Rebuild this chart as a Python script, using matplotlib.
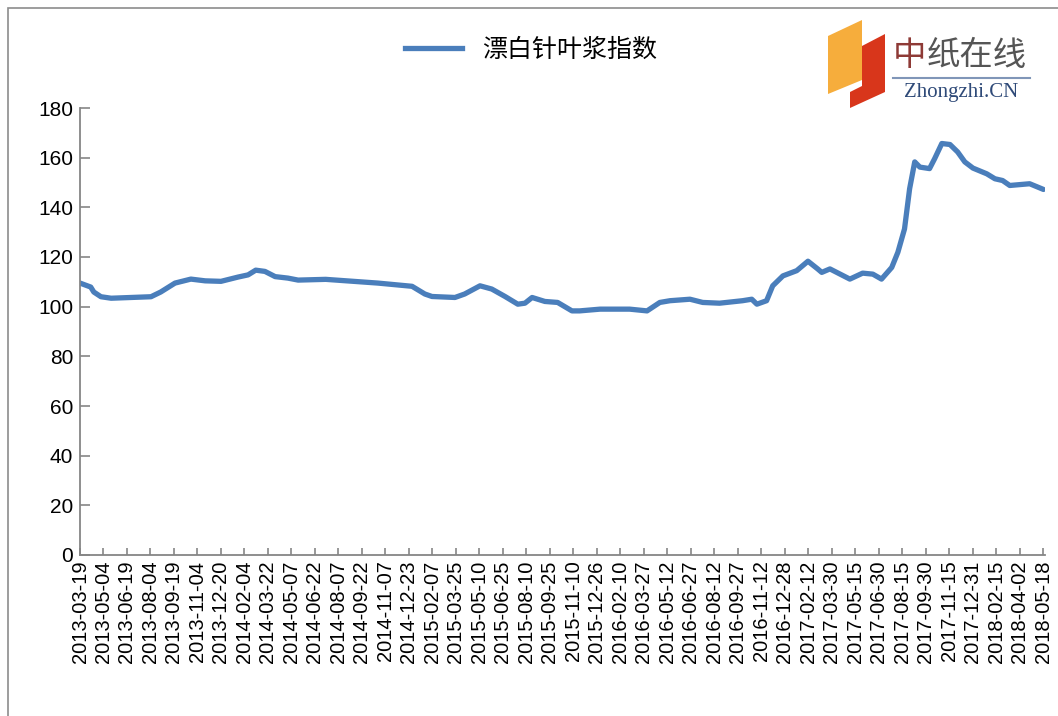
import pandas as pd
import matplotlib.pyplot as plt
from matplotlib.patches import Polygon, Rectangle
from matplotlib.lines import Line2D

# 漂白针叶浆指数
dates = [
    "2013-03-19", "2013-04-09", "2013-04-15", "2013-04-29", "2013-05-19", "2013-08-05",
    "2013-08-24", "2013-09-21", "2013-10-22", "2013-11-19", "2013-12-20", "2014-01-22",
    "2014-02-11", "2014-02-26", "2014-03-16", "2014-04-05", "2014-04-30", "2014-05-20",
    "2014-07-13", "2014-10-23", "2014-12-29", "2015-01-23", "2015-02-06", "2015-03-23",
    "2015-04-11", "2015-05-11", "2015-06-03", "2015-06-29", "2015-07-24", "2015-08-07",
    "2015-08-21", "2015-09-15", "2015-10-10", "2015-11-07", "2015-11-22", "2016-01-01",
    "2016-02-28", "2016-04-02", "2016-04-27", "2016-05-17", "2016-06-25", "2016-07-20",
    "2016-08-22", "2016-10-06", "2016-10-24", "2016-11-03", "2016-11-22", "2016-12-04",
    "2016-12-24", "2017-01-20", "2017-02-11", "2017-03-02", "2017-03-10", "2017-03-26",
    "2017-05-04", "2017-05-29", "2017-06-18", "2017-07-05", "2017-07-25", "2017-08-06",
    "2017-08-19", "2017-08-29", "2017-09-08", "2017-09-18", "2017-10-07", "2017-10-17",
    "2017-10-31", "2017-11-16", "2017-12-01", "2017-12-15", "2017-12-31", "2018-01-27",
    "2018-02-12", "2018-02-27", "2018-03-13", "2018-04-21", "2018-05-11", "2018-05-18",
]
index_values = [
    109.5, 107.9, 105.9, 104.0, 103.4, 104.0,
    105.9, 109.5, 111.1, 110.4, 110.2, 111.9,
    112.8, 114.7, 114.2, 112.1, 111.5, 110.7,
    111.0, 109.5, 108.2, 105.1, 104.1, 103.7,
    105.1, 108.4, 107.1, 104.1, 101.0, 101.4,
    103.7, 102.1, 101.7, 98.3, 98.3, 99.0,
    99.0, 98.3, 101.7, 102.4, 103.0, 101.7,
    101.4, 102.4, 103.0, 101.0, 102.4, 108.4,
    112.4, 114.5, 118.3, 115.2, 113.8, 115.2,
    111.1, 113.5, 113.1, 111.1, 115.8, 121.9,
    131.3, 147.5, 158.3, 156.2, 155.6, 159.6,
    165.7, 165.3, 162.3, 158.3, 155.8, 153.5,
    151.5, 150.8, 148.8, 149.5, 147.8, 147.2,
]

tick_labels = [
    "2013-03-19", "2013-05-04", "2013-06-19", "2013-08-04", "2013-09-19", "2013-11-04",
    "2013-12-20", "2014-02-04", "2014-03-22", "2014-05-07", "2014-06-22", "2014-08-07",
    "2014-09-22", "2014-11-07", "2014-12-23", "2015-02-07", "2015-03-25", "2015-05-10",
    "2015-06-25", "2015-08-10", "2015-09-25", "2015-11-10", "2015-12-26", "2016-02-10",
    "2016-03-27", "2016-05-12", "2016-06-27", "2016-08-12", "2016-09-27", "2016-11-12",
    "2016-12-28", "2017-02-12", "2017-03-30", "2017-05-15", "2017-06-30", "2017-08-15",
    "2017-09-30", "2017-11-15", "2017-12-31", "2018-02-15", "2018-04-02", "2018-05-18",
]

W, H = 1058, 716
fig = plt.figure(figsize=(W / 100, H / 100), dpi=100)
fig.patch.set_facecolor("white")

# outer chart border (only top and left show)
fig.add_artist(Rectangle((8 / W, -0.1), 1.2, 1 - 8 / H + 0.1, transform=fig.transFigure,
                         fill=False, edgecolor="#8c8c8c", linewidth=1.2))

ax = fig.add_axes([80 / W, 1 - 555 / H, (1045 - 80) / W, (555 - 108) / H])

x = pd.to_datetime(dates)
line_color = "#4a7ebb"
ax.plot(x, index_values, color=line_color, linewidth=3.8, solid_capstyle="round",
        solid_joinstyle="round")

ax.set_ylim(0, 180)
ax.set_yticks(range(0, 181, 20))
ax.set_xlim(pd.Timestamp("2013-03-19"), pd.Timestamp("2018-05-21"))
ax.set_xticks(pd.to_datetime(tick_labels))
ax.set_xticklabels(tick_labels, rotation=90)

for s in ["top", "right"]:
    ax.spines[s].set_visible(False)
for s in ["left", "bottom"]:
    ax.spines[s].set_color("#868686")
    ax.spines[s].set_linewidth(1.3)

ax.tick_params(axis="y", direction="in", length=7, width=1.2, color="#868686",
               labelsize=15, pad=5)
ax.tick_params(axis="x", direction="in", length=5, width=1.2, color="#868686",
               labelsize=14.5, pad=4)
for lbl in ax.get_xticklabels() + ax.get_yticklabels():
    lbl.set_fontfamily("Liberation Sans")

# legend at top
handle = Line2D([], [], color=line_color, linewidth=3.8)
ax.legend([handle], ["漂白针叶浆指数"], loc="center", bbox_to_anchor=(531 / W, 1 - 50 / H),
          bbox_transform=fig.transFigure, frameon=False, handlelength=2.3,
          prop={"family": ["Noto Sans CJK SC", "DejaVu Sans"], "size": 18})


# logo in the corner
def px(xp, yp):
    return (xp / W, 1 - yp / H)


orange = Polygon([px(828, 36), px(862, 20), px(862, 80), px(828, 94)], closed=True,
                 transform=fig.transFigure, facecolor="#f6ad3c", edgecolor="none")
red = Polygon([px(862, 46), px(885, 34), px(885, 92), px(850, 108), px(850, 92),
               px(862, 86)], closed=True,
              transform=fig.transFigure, facecolor="#d8361b", edgecolor="none")
fig.add_artist(orange)
fig.add_artist(red)
fig.text(893 / W, 1 - 56 / H, "中", fontsize=24, color="#8e3a36", va="center", ha="left",
         family=["Noto Sans CJK SC", "DejaVu Sans"])
fig.text(927 / W, 1 - 56 / H, "纸在线", fontsize=24, color="#555555", va="center", ha="left",
         family=["Noto Sans CJK SC", "DejaVu Sans"])
fig.add_artist(Line2D([893 / W, 1030 / W], [1 - 78 / H, 1 - 78 / H], transform=fig.transFigure,
                      color="#8096b8", linewidth=1.5))
fig.text(961 / W, 1 - 93 / H, "Zhongzhi.CN", fontsize=15, color="#2f4a78", va="center",
         ha="center", family="Liberation Serif")

fig.savefig("out.png", dpi=100, facecolor="white")
